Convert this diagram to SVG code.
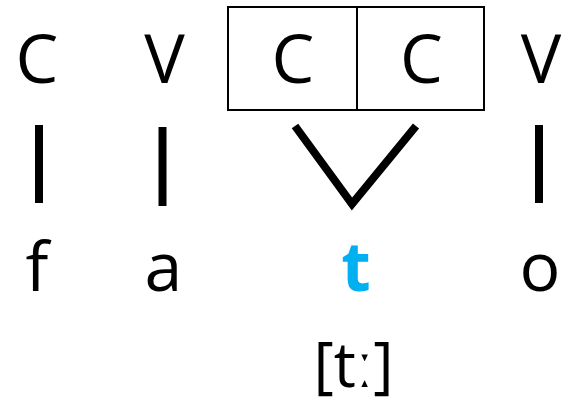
<svg xmlns="http://www.w3.org/2000/svg" width="561" height="406" viewBox="0 0 561 406">
<style>
.t{font-family:"Open Sans","Liberation Sans",sans-serif;font-size:68px;fill:#000;text-anchor:middle}
.b{font-weight:bold;fill:#00B0F0}
.ln{stroke:#000;stroke-width:8;fill:none}
.box{stroke:#000;stroke-width:2;fill:none}
</style>
<rect width="561" height="406" fill="#fff"/>
<g id="skeleton">
<g id="c1"><text class="t" x="37" y="83">C</text></g>
<g id="v1"><text class="t" x="164.5" y="83">V</text></g>
<g id="geminate">
<rect class="box" x="228" y="7" width="256" height="103"/>
<line class="box" x1="357" y1="7" x2="357" y2="110"/>
<g id="c2"><text class="t" x="293" y="83">C</text></g>
<g id="c3"><text class="t" x="421.5" y="83">C</text></g>
</g>
<g id="v2"><text class="t" x="541" y="83">V</text></g>
</g>
<g id="connectors">
<line class="ln" x1="39" y1="125" x2="39" y2="203"/>
<line class="ln" x1="162.5" y1="127" x2="162.5" y2="206"/>
<polyline class="ln" points="295,126 352,204 416,126"/>
<line class="ln" x1="539" y1="125" x2="539" y2="203"/>
</g>
<g id="segments">
<g id="f"><text class="t" x="37" y="291">f</text></g>
<g id="a"><text class="t" x="163.5" y="291">a</text></g>
<g id="t"><text class="t b" x="356" y="291">t</text></g>
<g id="o"><text class="t" x="540" y="291">o</text></g>
</g>
<g id="phonetic"><text class="t" x="353.5" y="387" style="font-size:62px">[tː]</text></g>
</svg>
